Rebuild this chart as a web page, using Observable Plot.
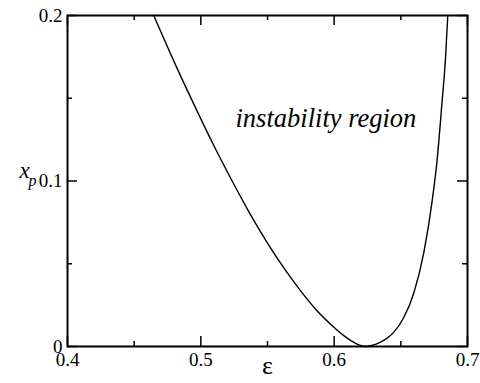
<!DOCTYPE html>
<html><head><meta charset="utf-8">
<script src="https://cdn.jsdelivr.net/npm/d3@7"></script>
<script src="https://cdn.jsdelivr.net/npm/@observablehq/plot@0.6"></script>
<style>
body{margin:0;background:#fff}
</style>
</head><body><div id="chart"></div>
<script>
// curve: epsilon vs x_p
const eps = [0.4647, 0.480, 0.495, 0.510, 0.5235, 0.537, 0.550, 0.5625, 0.575, 0.5875, 0.600, 0.607, 0.6125, 0.618, 0.6235, 0.628, 0.6348, 0.640, 0.6448, 0.6522, 0.6598, 0.6673, 0.6735, 0.677, 0.681, 0.6835, 0.6852];
const xp  = [0.200,  0.172, 0.146, 0.121, 0.100,  0.080, 0.0625, 0.0472, 0.0335, 0.0213, 0.0115, 0.0067, 0.0036, 0.0011, 0.0,  0.0006, 0.0027, 0.0052, 0.0087, 0.0175, 0.0325, 0.057, 0.088, 0.111, 0.1486, 0.174, 0.200];

const xMajor = [0.4, 0.5, 0.6, 0.7];
const xMinor = [0.45, 0.55, 0.65];
const yMajor = [0, 0.1, 0.2];
const yMinor = [0.05, 0.15];
const xTickLabels = ["0.4", "0.5", "0.6", "0.7"];
const yTickLabels = ["0", "0.1", "0.2"];
const annotations = [{x: 0.526, y: 0.1375, text: "instability region"}];
const xLabel = ["ε"];
const yLabelMain = ["x"];
const yLabelSub = ["p"];

const FONT = "Liberation Serif";
const W = 480, H = 383, mL = 67, mR = 13, mT = 15, mB = 37;
const fw = W - mL - mR, fh = H - mT - mB;
const data = eps.map((e, i) => ({e, x: xp[i]}));

const plot = Plot.plot({
  width: W, height: H,
  marginLeft: mL, marginRight: mR, marginTop: mT, marginBottom: mB,
  style: {fontFamily: FONT, background: "#fff", color: "#000"},
  x: {domain: [0.4, 0.7]},
  y: {domain: [0, 0.2]},
  marks: [
    Plot.axisX(xMajor, {tickSize: 0, tickPadding: 6, tickFormat: d => xTickLabels[xMajor.indexOf(d)], label: null, fontSize: 19, fontFamily: FONT}),
    Plot.axisY(yMajor, {tickSize: 0, tickPadding: 5, tickFormat: d => yTickLabels[yMajor.indexOf(d)], label: null, fontSize: 19, fontFamily: FONT}),
    // inward ticks: bottom, top, left, right
    Plot.ruleX(xMajor, {x: d => d, insetTop: fh - 10, strokeWidth: 1.5}),
    Plot.ruleX(xMinor, {x: d => d, insetTop: fh - 5, strokeWidth: 1.5}),
    Plot.ruleX(xMajor, {x: d => d, insetBottom: fh - 10, strokeWidth: 1.5}),
    Plot.ruleX(xMinor, {x: d => d, insetBottom: fh - 5, strokeWidth: 1.5}),
    Plot.ruleY(yMajor, {y: d => d, insetRight: fw - 10, strokeWidth: 1.5}),
    Plot.ruleY(yMinor, {y: d => d, insetRight: fw - 5, strokeWidth: 1.5}),
    Plot.ruleY(yMajor, {y: d => d, insetLeft: fw - 10, strokeWidth: 1.5}),
    Plot.ruleY(yMinor, {y: d => d, insetLeft: fw - 5, strokeWidth: 1.5}),
    Plot.line(data, {x: "e", y: "x", curve: "monotone-x", stroke: "black", strokeWidth: 1.4}),
    Plot.frame({stroke: "black", strokeWidth: 2}),
    Plot.text(annotations, {x: "x", y: "y", text: "text", textAnchor: "start", fontStyle: "italic", fontSize: 26.5, fontFamily: FONT}),
    Plot.text(xLabel, {text: d => d, frameAnchor: "bottom", dy: 27.5, fontSize: 26, fontFamily: FONT}),
    Plot.text(yLabelMain, {text: d => d, frameAnchor: "left", dx: -48, dy: -10.5, fontStyle: "italic", fontSize: 23, fontFamily: FONT}),
    Plot.text(yLabelSub, {text: d => d, frameAnchor: "left", dx: -39, dy: 0, fontStyle: "italic", fontSize: 16, fontFamily: FONT})
  ]
});
document.getElementById("chart").appendChild(plot);
</script>
</body></html>
